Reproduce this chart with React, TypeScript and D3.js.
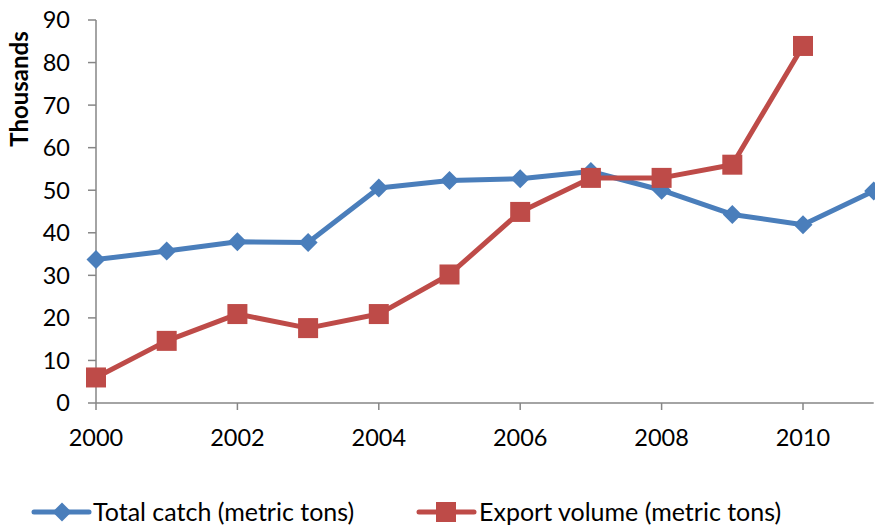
import React from "react";
import * as d3 from "d3";

const years = [2000, 2001, 2002, 2003, 2004, 2005, 2006, 2007, 2008, 2009, 2010, 2011];
const totalCatch = [33.7, 35.7, 37.9, 37.7, 50.5, 52.3, 52.7, 54.4, 50.0, 44.3, 41.9, 49.8];
const exportVolume = [6.0, 14.6, 20.9, 17.6, 20.9, 30.2, 44.9, 52.9, 52.9, 56.0, 83.9, null];
const yTicks = [0, 10, 20, 30, 40, 50, 60, 70, 80, 90];
const xTicks = [2000, 2002, 2004, 2006, 2008, 2010];
const seriesNames = ["Total catch (metric tons)", "Export volume (metric tons)"];
const yTitle = "Thousands";

const W = 875;
const H = 525;
const BLUE = "#4A7EBB";
const RED = "#BE4B48";
const AXIS = "#868686";
const FONT = "Lato, 'Open Sans', sans-serif";

export default function App() {
  const x = d3.scaleLinear().domain([2000, 2011]).range([96, 873.7]);
  const y = d3.scaleLinear().domain([0, 90]).range([403, 20]);

  const line = d3
    .line<[number, number | null]>()
    .defined((d) => d[1] != null)
    .x((d) => x(d[0]))
    .y((d) => y(d[1] as number));

  const blueData = years.map((yr, i) => [yr, totalCatch[i]] as [number, number | null]);
  const redData = years.map((yr, i) => [yr, exportVolume[i]] as [number, number | null]);

  const diamond = (cx: number, cy: number, r: number) =>
    `M${cx},${cy - r}L${cx + r},${cy}L${cx},${cy + r}L${cx - r},${cy}Z`;

  return (
    <svg
      width={W}
      height={H}
      style={{ position: "absolute", left: 0, top: 0, background: "#fff" }}
      fontFamily={FONT}
    >
      {/* axes */}
      <line x1={x(2000)} x2={x(2000)} y1={y(90)} y2={y(0)} stroke={AXIS} strokeWidth={1.5} />
      <line x1={x(2000)} x2={x(2011)} y1={y(0)} y2={y(0)} stroke={AXIS} strokeWidth={1.5} />
      {yTicks.map((t) => (
        <g key={"y" + t}>
          <line x1={x(2000) - 8} x2={x(2000)} y1={y(t)} y2={y(t)} stroke={AXIS} strokeWidth={1.5} />
          <text x={70} y={y(t)} dy="0.36em" textAnchor="end" fontSize={23.5} fill="#000">
            {t}
          </text>
        </g>
      ))}
      {xTicks.map((t) => (
        <g key={"x" + t}>
          <line x1={x(t)} x2={x(t)} y1={y(0)} y2={y(0) + 7} stroke={AXIS} strokeWidth={1.5} />
          <text x={x(t)} y={446} textAnchor="middle" fontSize={23.5} fill="#000">
            {t}
          </text>
        </g>
      ))}
      <text
        transform={`translate(28,89) rotate(-90)`}
        textAnchor="middle"
        fontSize={24}
        fontWeight="bold"
        fill="#000"
      >
        {yTitle}
      </text>

      {/* series */}
      <path d={line(blueData) || ""} fill="none" stroke={BLUE} strokeWidth={5} strokeLinejoin="round" />
      <path d={line(redData) || ""} fill="none" stroke={RED} strokeWidth={5} strokeLinejoin="round" />
      {blueData.map((d) => (
        <path key={"b" + d[0]} d={diamond(x(d[0]), y(d[1] as number), 9.5)} fill={BLUE} />
      ))}
      {redData
        .filter((d) => d[1] != null)
        .map((d) => (
          <rect
            key={"r" + d[0]}
            x={x(d[0]) - 10}
            y={y(d[1] as number) - 10}
            width={20}
            height={20}
            fill={RED}
          />
        ))}

      {/* legend */}
      <line x1={34} x2={89} y1={512} y2={512} stroke={BLUE} strokeWidth={5} strokeLinecap="round" />
      <path d={diamond(62, 512, 9.5)} fill={BLUE} />
      <text x={93} y={512} dy="0.36em" fontSize={25} fill="#000">
        {seriesNames[0]}
      </text>
      <line x1={419} x2={474} y1={512} y2={512} stroke={RED} strokeWidth={5} strokeLinecap="round" />
      <rect x={436} y={502} width={20} height={20} fill={RED} />
      <text x={479} y={512} dy="0.36em" fontSize={25} fill="#000">
        {seriesNames[1]}
      </text>
    </svg>
  );
}
